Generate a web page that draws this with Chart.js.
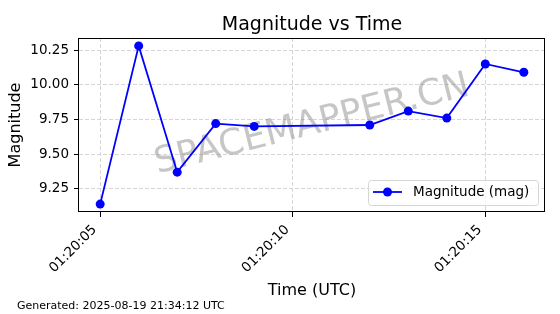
<!DOCTYPE html>
<html>
<head>
<meta charset="utf-8">
<script src="https://cdn.jsdelivr.net/npm/chart.js@4.4.1/dist/chart.umd.min.js"></script>
<style>
  html, body { margin: 0; padding: 0; background: #ffffff; }
  #wrap { width: 560px; height: 314px; }
</style>
</head>
<body>
<div id="wrap"><canvas id="c" width="560" height="314"></canvas></div>
<script>
// ---- data ----
const timeLabels = ['01:20:05','01:20:06','01:20:07','01:20:08','01:20:09','01:20:12','01:20:13','01:20:14','01:20:15','01:20:16'];
const magnitudes = [9.14, 10.28, 9.37, 9.72, 9.70, 9.71, 9.81, 9.76, 10.15, 10.09];
const xTickLabels = ['01:20:05', '01:20:10', '01:20:15'];
const yTickValues = [9.25, 9.50, 9.75, 10.00, 10.25];
const titleText = 'Magnitude vs Time';
const xAxisTitle = 'Time (UTC)';
const yAxisTitle = 'Magnitude';
const seriesName = 'Magnitude (mag)';
const footerText = 'Generated: 2025-08-19 21:34:12 UTC';
const watermarkText = 'SPACEMAPPER.CN';

function toSec(s) {
  const p = s.split(':').map(Number);
  return p[0] * 3600 + p[1] * 60 + p[2];
}
function fromSec(v) {
  const h = Math.floor(v / 3600), m = Math.floor((v % 3600) / 60), s = Math.round(v % 60);
  const pad = n => String(n).padStart(2, '0');
  return pad(h) + ':' + pad(m) + ':' + pad(s);
}

const points = timeLabels.map((t, i) => ({ x: toSec(t), y: magnitudes[i] }));
const xs = points.map(p => p.x), ys = points.map(p => p.y);
const xMinD = Math.min(...xs), xMaxD = Math.max(...xs);
const yMinD = Math.min(...ys), yMaxD = Math.max(...ys);
const xPad = (xMaxD - xMinD) * 0.05, yPad = (yMaxD - yMinD) * 0.05;

Chart.defaults.font.family = "'DejaVu Sans', sans-serif";
Chart.defaults.color = '#000000';

const extras = {
  id: 'extras',
  beforeDatasetsDraw(chart) {
    const { ctx, chartArea: a } = chart;
    ctx.save();
    ctx.translate((a.left + a.right) / 2, (a.top + a.bottom) / 2);
    ctx.rotate(-14 * Math.PI / 180);
    ctx.font = "36px 'DejaVu Sans'";
    ctx.fillStyle = 'rgba(128,128,128,0.45)';
    ctx.textAlign = 'center';
    ctx.textBaseline = 'middle';
    ctx.fillText(watermarkText, 0, 0);
    ctx.restore();
  },
  afterDraw(chart) {
    const { ctx, chartArea: a } = chart;
    const ds = chart.data.datasets[0];
    // frame
    ctx.save();
    ctx.strokeStyle = '#000000';
    ctx.lineWidth = 1;
    ctx.strokeRect(Math.round(a.left) - 0.5, Math.round(a.top) + 0.5, Math.round(a.right - a.left), Math.round(a.bottom - a.top) - 1);
    ctx.restore();
    // legend
    const bx = a.right - 177, by = a.bottom - 32, bw = 170, bh = 25;
    ctx.save();
    ctx.fillStyle = 'rgba(255,255,255,0.8)';
    ctx.strokeStyle = '#d6d6d6';
    ctx.lineWidth = 1;
    ctx.beginPath();
    if (ctx.roundRect) ctx.roundRect(bx + 0.5, by + 0.5, bw, bh, 3); else ctx.rect(bx + 0.5, by + 0.5, bw, bh);
    ctx.fill();
    ctx.stroke();
    const ly = by + bh / 2 - 0.5;
    ctx.strokeStyle = ds.borderColor;
    ctx.lineWidth = ds.borderWidth;
    ctx.beginPath();
    ctx.moveTo(bx + 5, ly);
    ctx.lineTo(bx + 34, ly);
    ctx.stroke();
    ctx.fillStyle = ds.pointBackgroundColor;
    ctx.beginPath();
    ctx.arc(bx + 19.5, ly, ds.pointRadius, 0, Math.PI * 2);
    ctx.fill();
    ctx.fillStyle = '#000000';
    ctx.font = "13.5px 'DejaVu Sans'";
    ctx.textAlign = 'left';
    ctx.textBaseline = 'middle';
    ctx.fillText(ds.label, bx + 45, ly + 0.5);
    // footer
    ctx.font = "11px 'DejaVu Sans'";
    ctx.textBaseline = 'alphabetic';
    ctx.fillText(footerText, 17, 309);
    ctx.restore();
  }
};

new Chart(document.getElementById('c'), {
  type: 'line',
  data: {
    datasets: [{
      label: seriesName,
      data: points,
      borderColor: '#0000ff',
      backgroundColor: '#0000ff',
      borderWidth: 1.8,
      pointRadius: 4.5,
      pointHoverRadius: 4.5,
      pointBackgroundColor: '#0000ff',
      pointBorderWidth: 0,
      tension: 0,
      fill: false
    }]
  },
  options: {
    responsive: false,
    animation: false,
    events: [],
    layout: { padding: { left: 0, right: 15, top: 0, bottom: 0 } },
    plugins: {
      legend: { display: false },
      tooltip: { enabled: false },
      title: {
        display: true,
        text: titleText,
        fullSize: false,
        font: { size: 19, weight: 'normal' },
        color: '#000000',
        padding: { top: 13.7, bottom: 1.5 }
      }
    },
    scales: {
      x: {
        type: 'linear',
        min: xMinD - xPad,
        max: xMaxD + xPad,
        afterBuildTicks(scale) { scale.ticks = xTickLabels.map(l => ({ value: toSec(l) })); },
        afterFit(scale) { scale.height = 102; },
        ticks: {
          autoSkip: false,
          minRotation: 45,
          maxRotation: 45,
          padding: 5,
          labelOffset: -5.5,
          font: { size: 13.5 },
          color: '#000000',
          callback: v => fromSec(v)
        },
        grid: { color: '#cccccc', lineWidth: 0.8, tickColor: '#000000', tickLength: 5, tickWidth: 1 },
        border: { display: false, dash: [4, 2] },
        title: { display: true, text: xAxisTitle, font: { size: 16 }, color: '#000000', padding: { top: 0, bottom: 14 } }
      },
      y: {
        type: 'linear',
        min: yMinD - yPad,
        max: yMaxD + yPad,
        afterBuildTicks(scale) { scale.ticks = yTickValues.map(v => ({ value: v })); },
        afterFit(scale) { scale.width = 79; },
        ticks: {
          padding: 5,
          font: { size: 13.5 },
          color: '#000000',
          callback: v => Number(v).toFixed(2)
        },
        grid: { color: '#cccccc', lineWidth: 0.8, tickColor: '#000000', tickLength: 5, tickWidth: 1 },
        border: { display: false, dash: [4, 2] },
        title: { display: true, text: yAxisTitle, font: { size: 16 }, color: '#000000', padding: { top: 6.4, bottom: 0 } }
      }
    }
  },
  plugins: [extras]
});
</script>
</body>
</html>
